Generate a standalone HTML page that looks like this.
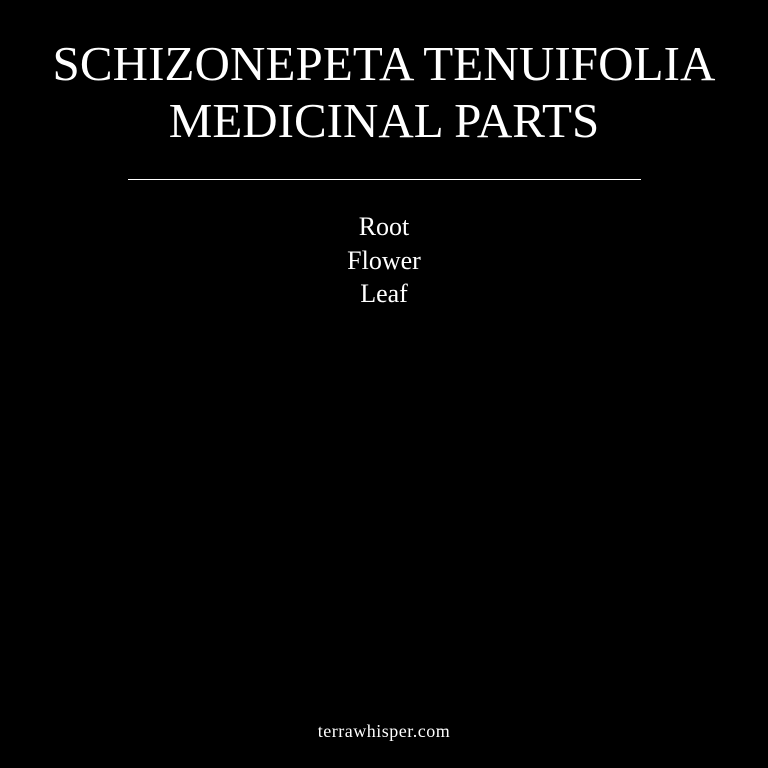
<!DOCTYPE html>
<html><head><meta charset="utf-8"><style>
html,body{margin:0;padding:0;background:#000;}
body{width:768px;height:768px;position:relative;overflow:hidden;color:#fff;font-family:"Liberation Serif",serif;}
.t{position:absolute;left:0;width:768px;text-align:center;white-space:nowrap;}
</style></head><body>
<div class="t" style="top:37px;font-size:49px;line-height:54px;letter-spacing:0.1px;">SCHIZONEPETA TENUIFOLIA</div>
<div class="t" style="top:94px;font-size:49px;line-height:54px;">MEDICINAL PARTS</div>
<div style="position:absolute;left:128px;top:179px;width:513px;height:1px;background:#fff;"></div>
<div class="t" style="top:212px;font-size:26px;line-height:30px;">Root</div>
<div class="t" style="top:246px;font-size:26px;line-height:30px;">Flower</div>
<div class="t" style="top:279px;font-size:26px;line-height:30px;">Leaf</div>
<div class="t" style="top:721px;font-size:18px;line-height:20px;letter-spacing:0.5px;">terrawhisper.com</div>
</body></html>
